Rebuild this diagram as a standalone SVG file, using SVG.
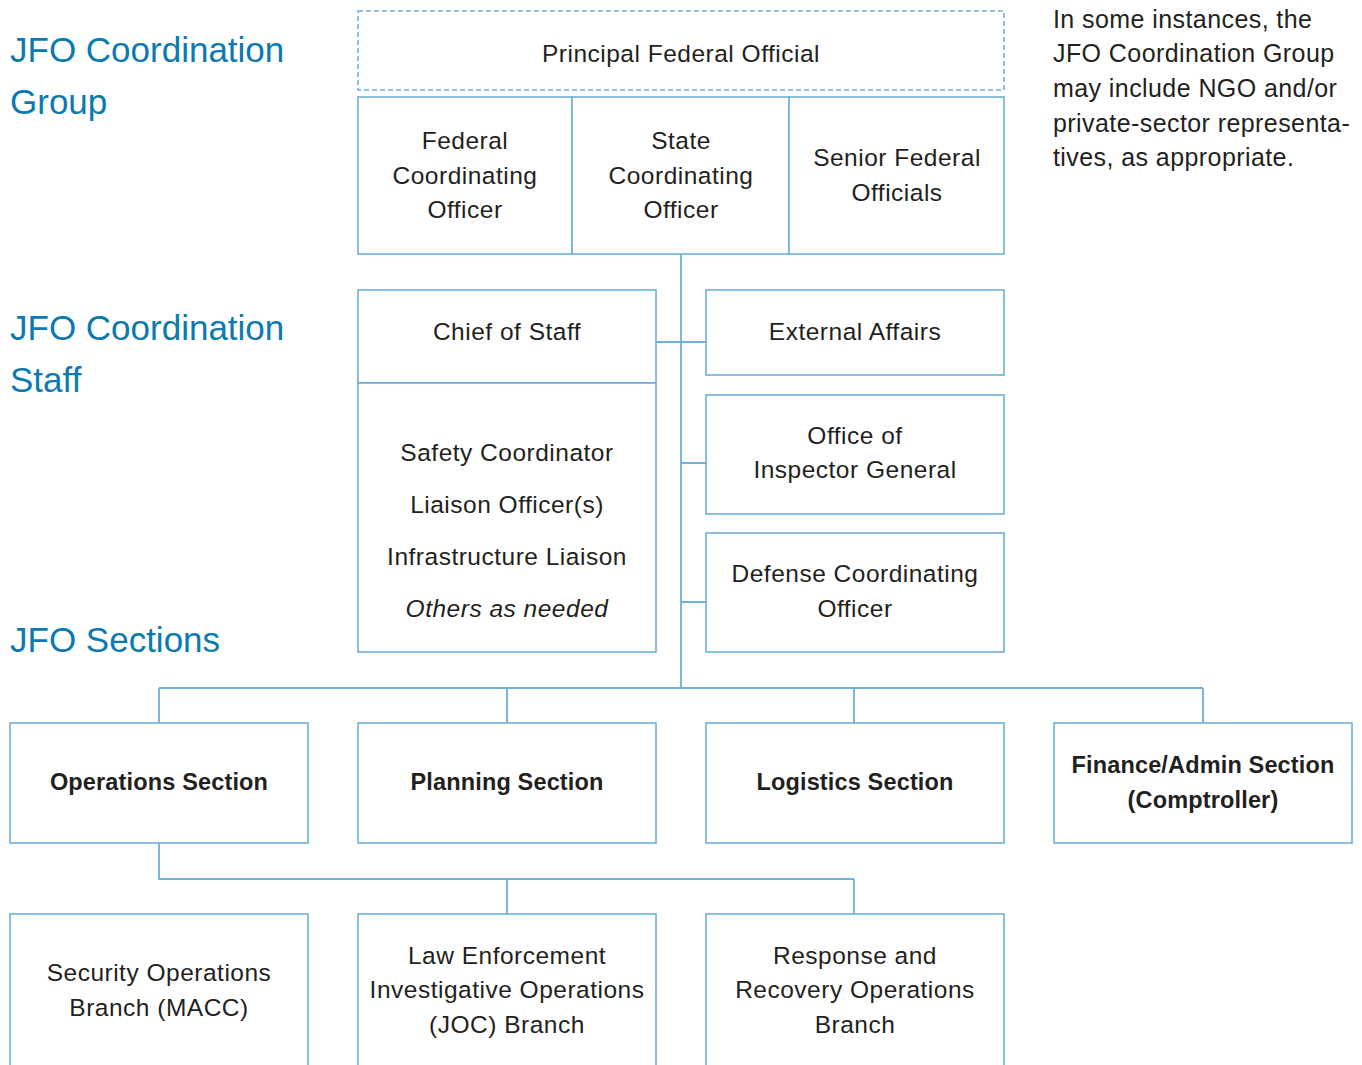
<svg xmlns="http://www.w3.org/2000/svg" width="1362" height="1065" viewBox="0 0 1362 1065">
<style>
.box{fill:#fff;stroke:#6fb0d8;stroke-width:1.6}
.dash{fill:#fff;stroke:#6fb0d8;stroke-width:1.6;stroke-dasharray:5 3}
.ln{fill:none;stroke:#6fb0d8;stroke-width:1.8}
.t{font-family:"Liberation Sans",Arial,sans-serif;font-size:24.5px;fill:#231f20;text-anchor:middle;letter-spacing:0.5px}
.b{font-weight:bold;font-size:23.5px;letter-spacing:0.15px}
.i{font-style:italic}
.h{font-family:"Liberation Sans",Arial,sans-serif;font-size:35px;fill:#0b7ab0}
.n{font-family:"Liberation Sans",Arial,sans-serif;font-size:25px;fill:#231f20;letter-spacing:0.42px}
</style>
<rect width="1362" height="1065" fill="#fff"/>
<g id="labels">
<text class="h" x="10" y="62">JFO Coordination</text>
<text class="h" x="10" y="114">Group</text>
<text class="h" x="10" y="340">JFO Coordination</text>
<text class="h" x="10" y="392">Staff</text>
<text class="h" x="10" y="652">JFO Sections</text>
</g>
<g id="note">
<text class="n" x="1053" y="28">In some instances, the</text>
<text class="n" x="1053" y="62">JFO Coordination Group</text>
<text class="n" x="1053" y="97">may include NGO and/or</text>
<text class="n" x="1053" y="132">private-sector representa-</text>
<text class="n" x="1053" y="166">tives, as appropriate.</text>
</g>
<g id="connectors">
<path class="ln" d="M681 254V688M656 342H706M681 463H706M681 602H706M159 688H1203M159 688V723M507 688V723M854 688V723M1203 688V723M159 843V879H854M507 879V914M854 879V914"/>
</g>
<g id="pfo"><rect class="dash" x="358" y="11" width="646" height="79"/><text class="t" x="681" y="62">Principal Federal Official</text></g>
<g id="fco"><rect class="box" x="358" y="97" width="214" height="157"/><text class="t" x="465" y="149">Federal</text><text class="t" x="465" y="184">Coordinating</text><text class="t" x="465" y="218">Officer</text></g>
<g id="sco"><rect class="box" x="572" y="97" width="217" height="157"/><text class="t" x="681" y="149">State</text><text class="t" x="681" y="184">Coordinating</text><text class="t" x="681" y="218">Officer</text></g>
<g id="sfo"><rect class="box" x="789" y="97" width="215" height="157"/><text class="t" x="897" y="166">Senior Federal</text><text class="t" x="897" y="201">Officials</text></g>
<g id="cos"><rect class="box" x="358" y="290" width="298" height="93"/><text class="t" x="507" y="340">Chief of Staff</text></g>
<g id="staff"><rect class="box" x="358" y="383" width="298" height="269"/><text class="t" x="507" y="461">Safety Coordinator</text><text class="t" x="507" y="513">Liaison Officer(s)</text><text class="t" x="507" y="565">Infrastructure Liaison</text><text class="t i" x="507" y="617">Others as needed</text></g>
<g id="ea"><rect class="box" x="706" y="290" width="298" height="85"/><text class="t" x="855" y="340">External Affairs</text></g>
<g id="oig"><rect class="box" x="706" y="395" width="298" height="119"/><text class="t" x="855" y="444">Office of</text><text class="t" x="855" y="478">Inspector General</text></g>
<g id="dco"><rect class="box" x="706" y="533" width="298" height="119"/><text class="t" x="855" y="582">Defense Coordinating</text><text class="t" x="855" y="617">Officer</text></g>
<g id="ops"><rect class="box" x="10" y="723" width="298" height="120"/><text class="t b" x="159" y="790">Operations Section</text></g>
<g id="plan"><rect class="box" x="358" y="723" width="298" height="120"/><text class="t b" x="507" y="790">Planning Section</text></g>
<g id="log"><rect class="box" x="706" y="723" width="298" height="120"/><text class="t b" x="855" y="790">Logistics Section</text></g>
<g id="fin"><rect class="box" x="1054" y="723" width="298" height="120"/><text class="t b" x="1203" y="773">Finance/Admin Section</text><text class="t b" x="1203" y="808">(Comptroller)</text></g>
<g id="sec"><rect class="box" x="10" y="914" width="298" height="170"/><text class="t" x="159" y="981">Security Operations</text><text class="t" x="159" y="1016">Branch (MACC)</text></g>
<g id="law"><rect class="box" x="358" y="914" width="298" height="170"/><text class="t" x="507" y="964">Law Enforcement</text><text class="t" x="507" y="998">Investigative Operations</text><text class="t" x="507" y="1033">(JOC) Branch</text></g>
<g id="rro"><rect class="box" x="706" y="914" width="298" height="170"/><text class="t" x="855" y="964">Response and</text><text class="t" x="855" y="998">Recovery Operations</text><text class="t" x="855" y="1033">Branch</text></g>
</svg>
